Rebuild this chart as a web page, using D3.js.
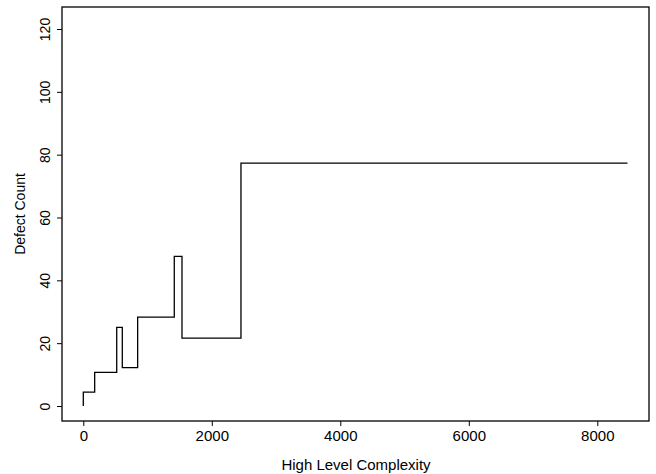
<!DOCTYPE html>
<html>
<head>
<meta charset="utf-8">
<script src="https://cdn.jsdelivr.net/npm/d3@7"></script>
<style>
    body { margin: 0; background: #fff; }
    svg { display: block; font-family: "Liberation Sans", Arial, sans-serif; }
</style>
</head>
<body>
<svg js-sel="chart" width="656" height="474"></svg>
<script>
// step points: complexity where each level starts, defect count held until the next one
const step_x = [0, 0, 177, 520, 607, 846, 1416, 1536, 2454, 8470];
const step_y = [0, 4.4, 10.7, 25, 12.2, 28.3, 47.6, 21.6, 77.3, 77.3];
const x_ticks = [0, 2000, 4000, 6000, 8000];
const y_ticks = [0, 20, 40, 60, 80, 100, 120];

function render() {
    const svg = d3.select('[js-sel="chart"]');
    const box = { left: 62, right: 649, top: 7, bottom: 421 };

    const x = d3.scaleLinear().domain([0, 8000]).range([83.3, 597.3]);
    const y = d3.scaleLinear().domain([0, 120]).range([406, 29]);

    // frame
    svg.append("rect")
        .attr("x", box.left).attr("y", box.top)
        .attr("width", box.right - box.left).attr("height", box.bottom - box.top)
        .attr("fill", "none").attr("stroke", "#000").attr("stroke-width", 1.3);

    const x_axis = svg.append("g")
        .attr("transform", `translate(0,${box.bottom})`)
        .call(d3.axisBottom(x).tickValues(x_ticks).tickSize(5).tickPadding(4).tickFormat(d3.format("d")));
    x_axis.select(".domain").remove();
    x_axis.selectAll("text").attr("font-size", 15).attr("fill", "#000").attr("font-family", null);

    const y_axis = svg.append("g")
        .attr("transform", `translate(${box.left},0)`)
        .call(d3.axisLeft(y).tickValues(y_ticks).tickSize(5).tickFormat(d3.format("d")));
    y_axis.select(".domain").remove();
    y_axis.selectAll("text")
        .attr("font-size", 14).attr("fill", "#000").attr("font-family", null)
        .attr("text-anchor", "middle")
        .attr("x", null).attr("dy", null)
        .attr("transform", "translate(-12,0) rotate(-90)");

    const points = step_x.map((d, i) => [d, step_y[i]]);
    svg.append("path")
        .datum(points)
        .attr("fill", "none")
        .attr("stroke", "#000")
        .attr("stroke-width", 1.3)
        .attr("d", d3.line()
            .x(d => x(d[0]))
            .y(d => y(d[1]))
            .curve(d3.curveStepAfter));

    svg.append("text")
        .attr("x", 356).attr("y", 470)
        .attr("text-anchor", "middle").attr("font-size", 15)
        .text("High Level Complexity");

    svg.append("text")
        .attr("transform", `translate(25,${(box.top + box.bottom) / 2}) rotate(-90)`)
        .attr("text-anchor", "middle").attr("font-size", 14)
        .text("Defect Count");
}

render();
</script>
</body>
</html>
